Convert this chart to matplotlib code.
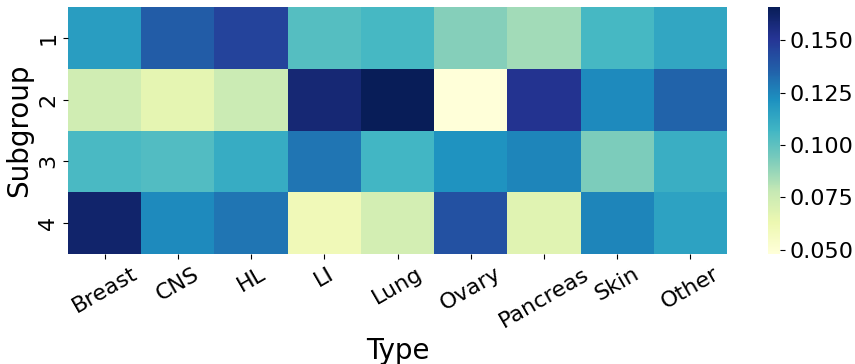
import numpy as np
import pandas as pd
import matplotlib
matplotlib.use('Agg')
import matplotlib.pyplot as plt
import seaborn as sns

types = ['Breast', 'CNS', 'HL', 'LI', 'Lung', 'Ovary', 'Pancreas', 'Skin', 'Other']
subgroups = ['1', '2', '3', '4']

sub1 = [0.117, 0.137, 0.146, 0.102, 0.106, 0.091, 0.085, 0.106, 0.113]
sub2 = [0.074, 0.066, 0.076, 0.159, 0.166, 0.048, 0.152, 0.124, 0.135]
sub3 = [0.105, 0.103, 0.111, 0.130, 0.107, 0.121, 0.125, 0.093, 0.110]
sub4 = [0.161, 0.124, 0.130, 0.060, 0.073, 0.141, 0.068, 0.125, 0.115]

df = pd.DataFrame([sub1, sub2, sub3, sub4], index=subgroups, columns=types)

fig = plt.figure(figsize=(8.55, 3.64), dpi=100)
ax = fig.add_axes([68 / 855, 1 - 254 / 364, 659 / 855, 247 / 364])
cax = fig.add_axes([768 / 855, 1 - 254 / 364, 12 / 855, 247 / 364])

sns.heatmap(df, cmap='YlGnBu', ax=ax, cbar_ax=cax)

ax.set_xlabel('Type', fontsize=20)
ax.set_ylabel('Subgroup', fontsize=20)
ax.tick_params(axis='x', labelsize=16)
ax.tick_params(axis='y', labelsize=16)
plt.setp(ax.get_xticklabels(), rotation=30)
plt.setp(ax.get_yticklabels(), rotation=90, va='center')

cax.set_yticks([0.05, 0.075, 0.1, 0.125, 0.15])
cax.set_yticklabels(['0.050', '0.075', '0.100', '0.125', '0.150'])
cax.tick_params(labelsize=16)

fig.savefig('out.png', dpi=100)
